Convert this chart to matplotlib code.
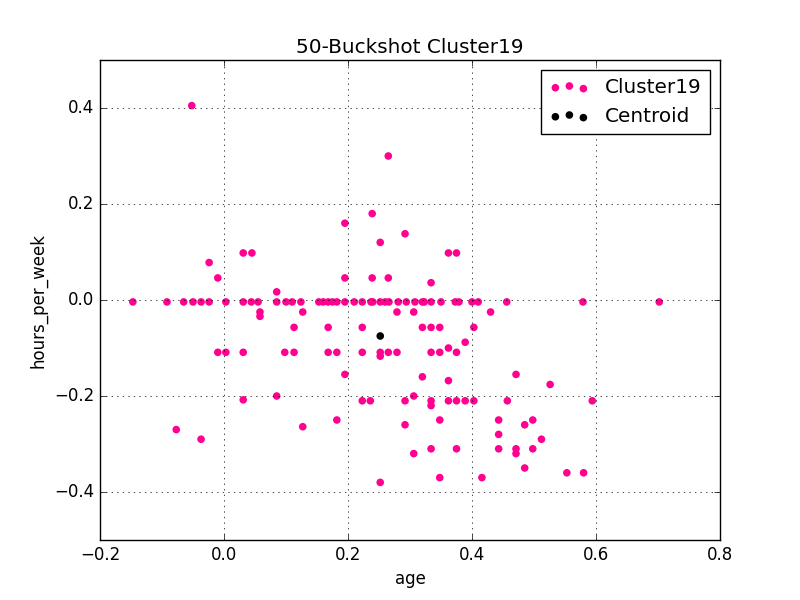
import numpy as np
import matplotlib
matplotlib.use("Agg")
import matplotlib.pyplot as plt

plt.style.use("classic")

# points along hours_per_week ~ 0
row_x = [-0.147, -0.092, -0.065, -0.05, -0.037, -0.024, 0.003, 0.031, 0.044, 0.055,
         0.085, 0.1, 0.11, 0.124, 0.153, 0.16, 0.168, 0.175, 0.182, 0.195, 0.21, 0.223,
         0.237, 0.24, 0.252, 0.26, 0.266, 0.281, 0.294, 0.308, 0.32, 0.323, 0.334, 0.35,
         0.373, 0.379, 0.4, 0.41, 0.456, 0.579, 0.702]
row_y = [-0.004] * len(row_x)

other_x = [-0.052, -0.024, -0.01, -0.01, 0.003, 0.031, 0.045, 0.031, 0.031, 0.058, 0.058,
           0.085, 0.085, 0.098, 0.113, 0.113, 0.127, 0.127, -0.077, -0.037, 0.168, 0.168,
           0.182, 0.195, 0.195, 0.195, 0.182, 0.223, 0.223, 0.223, 0.236, 0.239, 0.239,
           0.252, 0.252, 0.252, 0.252, 0.265, 0.265, 0.265, 0.279, 0.279, 0.292, 0.292,
           0.292, 0.306, 0.306, 0.306, 0.32, 0.32, 0.334, 0.334, 0.334, 0.334, 0.334,
           0.334, 0.348, 0.348, 0.348, 0.348, 0.362, 0.362, 0.362, 0.362, 0.375, 0.375,
           0.375, 0.375, 0.389, 0.389, 0.403, 0.403, 0.416, 0.43, 0.443, 0.443, 0.443,
           0.457, 0.471, 0.471, 0.471, 0.485, 0.485, 0.498, 0.498, 0.512, 0.526, 0.553,
           0.58, 0.594]
other_y = [0.405, 0.078, 0.046, -0.109, -0.109, 0.098, 0.098, -0.109, -0.208, -0.025, -0.034,
           0.017, -0.2, -0.109, -0.109, -0.057, -0.025, -0.264, -0.27, -0.29, -0.057, -0.109,
           -0.109, 0.16, 0.046, -0.155, -0.25, -0.109, -0.057, -0.21, -0.21, 0.18, 0.046,
           0.12, -0.109, -0.117, -0.38, 0.3, 0.046, -0.109, -0.109, -0.025, 0.138, -0.21,
           -0.26, -0.025, -0.2, -0.32, -0.057, -0.16, 0.036, -0.057, -0.109, -0.21, -0.22,
           -0.31, -0.057, -0.109, -0.25, -0.37, 0.098, -0.1, -0.168, -0.21, 0.098, -0.109,
           -0.21, -0.31, -0.088, -0.21, -0.057, -0.21, -0.37, -0.025, -0.25, -0.28, -0.31,
           -0.21, -0.155, -0.31, -0.32, -0.26, -0.35, -0.25, -0.31, -0.29, -0.176, -0.36,
           -0.36, -0.21]

centroid_x = [0.252]
centroid_y = [-0.075]

fig = plt.figure(figsize=(8, 6), dpi=100)
ax = fig.add_subplot(111)
ax.scatter(row_x + other_x, row_y + other_y, color="#ff0090", edgecolor="none", s=30, label="Cluster19")
ax.scatter(centroid_x, centroid_y, color="black", edgecolor="none", s=30, label="Centroid")
ax.set_xlim(-0.2, 0.8)
ax.set_ylim(-0.5, 0.5)
ax.set_xticks(np.arange(-0.2, 0.81, 0.2))
ax.set_yticks(np.arange(-0.4, 0.41, 0.2))
ax.grid(True)
ax.set_xlabel("age")
ax.set_ylabel("hours_per_week")
ax.set_title("50-Buckshot Cluster19")
ax.legend(loc="upper right", scatterpoints=3)
fig.savefig("out.png")
